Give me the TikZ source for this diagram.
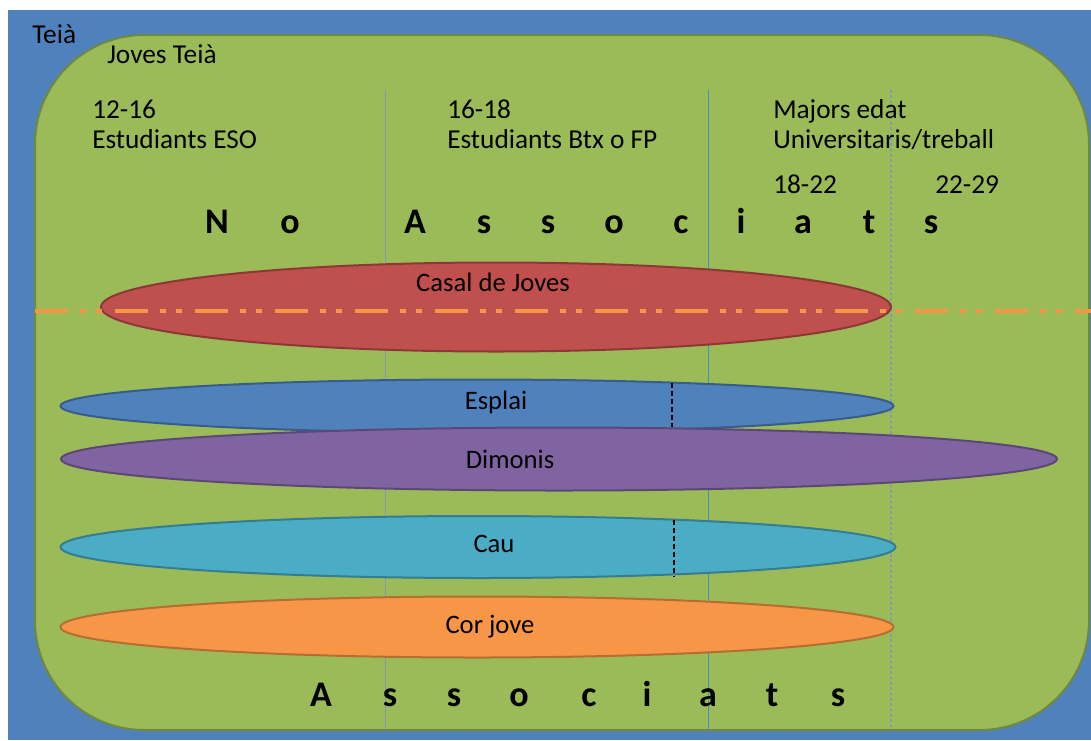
\documentclass[tikz,border=0pt]{standalone}
\usepackage{fontspec}
\setmainfont{Carlito}
\usepackage{tikz}
\usetikzlibrary{positioning, shapes.geometric}
\usepackage{xcolor}

\definecolor{teiablue}{HTML}{4F81BD}
\definecolor{jovesgreen}{HTML}{9BBB59}
\definecolor{jovesgreend}{HTML}{71893F}
\definecolor{casalred}{HTML}{C0504D}
\definecolor{casalredd}{HTML}{8C3836}
\definecolor{dimpurple}{HTML}{8064A2}
\definecolor{dimpurpled}{HTML}{5C4776}
\definecolor{cauteal}{HTML}{4BACC6}
\definecolor{cautealdd}{HTML}{357D91}
\definecolor{corange}{HTML}{F79646}
\definecolor{corangedd}{HTML}{B66D31}
\definecolor{esplaid}{HTML}{385D8A}
\definecolor{divgrey}{HTML}{7F9AB5}

\begin{document}
\begin{tikzpicture}[x=0.75pt, y=-0.75pt,
    txt/.style={font=\fontsize{20.5}{24}\selectfont, inner sep=0pt, anchor=base west},
    clubtxt/.style={font=\fontsize{20}{24}\selectfont, inner sep=0pt, anchor=base},
    bigletter/.style={font=\fontsize{27}{30}\selectfont\bfseries, inner sep=0pt, anchor=base},
    club/.style={ellipse, inner sep=0pt, line width=1.5pt}]
    \useasboundingbox (0,0) rectangle (1091,740);

    % Teia and Joves Teia
    \fill[teiablue] (8,10) rectangle (1091,740);
    \draw[fill=jovesgreen, draw=jovesgreend, line width=1.5pt, rounded corners=82pt]
        (35,35) rectangle (1089,730);
    \node[txt] (teia) at (32,43) {Teià};
    \node[txt] (joves) at (107,63) {Joves Teià};

    % Age columns
    \draw[divgrey, line width=0.7pt] (385,90) -- (385,730);
    \draw[teiablue!90!cyan, line width=0.7pt] (708,90) -- (708,730);
    \draw[divgrey, line width=0.8pt, dash pattern=on 2pt off 2pt] (891,90) -- (891,730);

    \node[txt] (eso) at (92,118) {12-16};
    \node[txt] (esot) at (92,148) {Estudiants ESO};
    \node[txt] (btx) at (447,118) {16-18};
    \node[txt] (btxt) at (447,148) {Estudiants Btx o FP};
    \node[txt] (maj) at (773,118) {Majors edat};
    \node[txt] (majt) at (773,148) {Universitaris/treball};
    \node[txt] (uni) at (773,193) {18-22};
    \node[txt] (treb) at (935,193) {22-29};

    % No associats
    \foreach \x/\l in {217/N, 290/o, 415/A, 484/s, 548/s, 614/o, 681/c, 741/i, 803/a, 869/t, 931/s}
        \node[bigletter] (no\x) at (\x,233) {\l};

    % Clubs
    \node[club, fill=casalred, draw=casalredd, minimum width=790*0.75pt, minimum height=89*0.75pt]
        (casal) at (496,307) {};
    \node[clubtxt] (casaltxt) at (493,291) {Casal de Joves};
    \draw[corange, line width=3pt, dash pattern=on 25pt off 9pt on 4pt off 8pt on 4pt off 10pt]
        (35,311) -- (1091,311);

    \node[club, fill=teiablue, draw=esplaid, minimum width=833*0.75pt, minimum height=53*0.75pt]
        (esplai) at (477,406) {};
    \draw[line width=0.8pt, dash pattern=on 4pt off 2pt] (672,383) -- (672,427);
    \node[clubtxt] (esplaitxt) at (496,409) {Esplai};

    \node[club, fill=dimpurple, draw=dimpurpled, minimum width=996*0.75pt, minimum height=63*0.75pt]
        (dimonis) at (559,459) {};
    \node[clubtxt] (dimonistxt) at (510,468) {Dimonis};

    \node[club, fill=cauteal, draw=cautealdd, minimum width=835*0.75pt, minimum height=62*0.75pt]
        (cau) at (478,547) {};
    \draw[line width=0.8pt, dash pattern=on 4pt off 2pt] (674,520) -- (674,577);
    \node[clubtxt] (cautxt) at (494,552) {Cau};

    \node[club, fill=corange, draw=corangedd, minimum width=833*0.75pt, minimum height=61*0.75pt]
        (cor) at (477,627) {};
    \node[clubtxt] (cortxt) at (490,633) {Cor jove};

    % Associats
    \foreach \x/\l in {321/A, 390/s, 454/s, 519/o, 589/c, 647/i, 708/a, 772/t, 838/s}
        \node[bigletter] (as\x) at (\x,706) {\l};

\end{tikzpicture}
\end{document}
